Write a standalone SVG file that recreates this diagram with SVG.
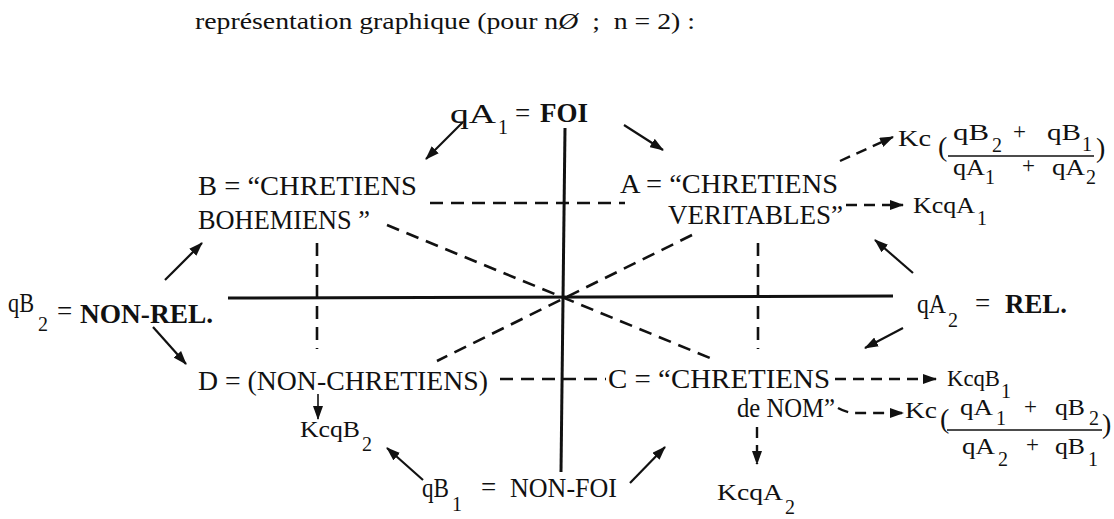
<svg xmlns="http://www.w3.org/2000/svg" width="1114" height="519" viewBox="0 0 1114 519">
<style>
text{font-family:"Liberation Serif","DejaVu Serif",serif;fill:#111}
.m{font-size:27px}
.k{font-size:23px}
.sub{font-size:20px}
.p{font-size:28px}
.b{font-weight:bold}
.solid{stroke:#111;stroke-width:3;fill:none}
.dash{stroke:#111;stroke-width:2.6;stroke-dasharray:13 8;fill:none}
.arr{stroke:#111;stroke-width:2.2;fill:none;marker-end:url(#ah)}
.darr{stroke:#111;stroke-width:2.4;stroke-dasharray:11 7;fill:none;marker-end:url(#ah)}
.fl{stroke:#111;stroke-width:1.6}
</style>
<defs>
<marker id="ah" markerUnits="userSpaceOnUse" markerWidth="14" markerHeight="10" refX="13" refY="5" orient="auto">
<path d="M0,0 L14,5 L0,10 z" fill="#111"/>
</marker>
</defs>
<rect width="1114" height="519" fill="#fff"/>

<g id="title">
<text x="195" y="29" style="font-size:24px" textLength="500" lengthAdjust="spacingAndGlyphs">représentation graphique (pour n<tspan font-style="italic">Ø</tspan>&#160;&#160;;&#160;&#160;n = 2) :</text>
</g>

<g id="connectors">
<path class="solid" d="M565,128 L561,472"/>
<path class="solid" d="M228,298 L893,296"/>
<path class="dash" d="M430,203 L625,203"/>
<path class="dash" d="M500,379 L606,379"/>
<path class="dash" d="M317,243 L317,349"/>
<path class="dash" d="M758,243 L758,349"/>
<path class="dash" d="M387,225 L710,358"/>
<path class="dash" d="M692,235 L437,361"/>
<path class="arr" d="M463,122 L426,159"/>
<path class="arr" d="M624,125 L663,150"/>
<path class="arr" d="M913,273 L875,240"/>
<path class="arr" d="M903,328 L865,348"/>
<path class="arr" d="M165,280 L202,243"/>
<path class="arr" d="M153,327 L186,364"/>
<path class="arr" d="M423,480 L387,448"/>
<path class="arr" d="M630,483 L665,447"/>
<path class="arr" style="stroke-width:1.6" d="M318,394 L318,419"/>
<path class="darr" d="M840,161 L893,137"/>
<path class="darr" d="M846,205 L903,205"/>
<path class="darr" d="M835,379 L936,379"/>
<path class="darr" d="M838,408 Q845,412 853,413 L903,413"/>
<path class="darr" d="M757,427 L757,464"/>
</g>

<g id="node-qA1">
<text class="m" x="450" y="123" textLength="46" lengthAdjust="spacingAndGlyphs">qA</text>
<text class="sub" x="498" y="134">1</text>
<text class="m" x="515" y="122">=</text>
<text class="m b" x="540" y="122" textLength="48" lengthAdjust="spacingAndGlyphs">FOI</text>
</g>

<g id="node-B">
<text class="m" x="198" y="195" textLength="219" lengthAdjust="spacingAndGlyphs">B = “CHRETIENS</text>
<text class="m" x="198" y="229" textLength="172" lengthAdjust="spacingAndGlyphs">BOHEMIENS ”</text>
</g>

<g id="node-A">
<text class="m" x="620" y="193" textLength="218" lengthAdjust="spacingAndGlyphs">A = “CHRETIENS</text>
<text class="m" x="668" y="224" textLength="175" lengthAdjust="spacingAndGlyphs">VERITABLES”</text>
</g>

<g id="node-Kc-upper">
<text class="k" x="898" y="146" textLength="33" lengthAdjust="spacingAndGlyphs">Kc</text>
<text class="p" x="938" y="156">(</text>
<text class="k" x="953" y="140" textLength="36" lengthAdjust="spacingAndGlyphs">qB</text>
<text class="sub" x="992" y="152">2</text>
<text class="k" x="1013" y="139">+</text>
<text class="k" x="1047" y="140" textLength="34" lengthAdjust="spacingAndGlyphs">qB</text>
<text class="sub" x="1082" y="151">1</text>
<line class="fl" x1="948" y1="156" x2="1094" y2="156"/>
<text class="k" x="953" y="175" textLength="32" lengthAdjust="spacingAndGlyphs">qA</text>
<text class="sub" x="985" y="184">1</text>
<text class="k" x="1022" y="173">+</text>
<text class="k" x="1052" y="175" textLength="33" lengthAdjust="spacingAndGlyphs">qA</text>
<text class="sub" x="1086" y="184">2</text>
<text class="p" x="1096" y="157">)</text>
</g>

<g id="node-KcqA1">
<text class="k" x="913" y="213" textLength="62" lengthAdjust="spacingAndGlyphs">KcqA</text>
<text class="sub" x="977" y="225">1</text>
</g>

<g id="node-qB2">
<text class="m" x="8" y="312" textLength="26" lengthAdjust="spacingAndGlyphs">qB</text>
<text class="sub" x="38" y="331">2</text>
<text class="m" x="57" y="320">=</text>
<text class="m b" x="80" y="323" textLength="133" lengthAdjust="spacingAndGlyphs">NON-REL.</text>
</g>

<g id="node-qA2">
<text class="m" x="917" y="313" textLength="29" lengthAdjust="spacingAndGlyphs">qA</text>
<text class="sub" x="948" y="327">2</text>
<text class="m" x="975" y="312">=</text>
<text class="m b" x="1005" y="313" textLength="62" lengthAdjust="spacingAndGlyphs">REL.</text>
</g>

<g id="node-D">
<text class="m" x="198" y="390" textLength="290" lengthAdjust="spacingAndGlyphs">D = (NON-CHRETIENS)</text>
</g>

<g id="node-C">
<text class="m" x="608" y="388" textLength="222" lengthAdjust="spacingAndGlyphs">C = “CHRETIENS</text>
<text class="m" x="737" y="417" textLength="98" lengthAdjust="spacingAndGlyphs">de NOM”</text>
</g>

<g id="node-KcqB1">
<text class="k" x="947" y="386" textLength="53" lengthAdjust="spacingAndGlyphs">KcqB</text>
<text class="sub" x="1001" y="398">1</text>
</g>

<g id="node-Kc-lower">
<text class="k" x="905" y="418" textLength="32" lengthAdjust="spacingAndGlyphs">Kc</text>
<text class="p" x="940" y="428">(</text>
<text class="k" x="960" y="415" textLength="33" lengthAdjust="spacingAndGlyphs">qA</text>
<text class="sub" x="996" y="425">1</text>
<text class="k" x="1024" y="414">+</text>
<text class="k" x="1055" y="415" textLength="30" lengthAdjust="spacingAndGlyphs">qB</text>
<text class="sub" x="1089" y="425">2</text>
<line class="fl" x1="947" y1="430" x2="1102" y2="430"/>
<text class="k" x="962" y="454" textLength="33" lengthAdjust="spacingAndGlyphs">qA</text>
<text class="sub" x="998" y="466">2</text>
<text class="k" x="1026" y="452">+</text>
<text class="k" x="1055" y="454" textLength="30" lengthAdjust="spacingAndGlyphs">qB</text>
<text class="sub" x="1088" y="466">1</text>
<text class="p" x="1102" y="433">)</text>
</g>

<g id="node-KcqB2">
<text class="k" x="300" y="437" textLength="60" lengthAdjust="spacingAndGlyphs">KcqB</text>
<text class="sub" x="362" y="451">2</text>
</g>

<g id="node-qB1">
<text class="m" x="422" y="497" textLength="27" lengthAdjust="spacingAndGlyphs">qB</text>
<text class="sub" x="452" y="511">1</text>
<text class="m" x="481" y="496">=</text>
<text class="m" x="510" y="497" textLength="107" lengthAdjust="spacingAndGlyphs">NON-FOI</text>
</g>

<g id="node-KcqA2">
<text class="k" x="717" y="500" textLength="66" lengthAdjust="spacingAndGlyphs">KcqA</text>
<text class="sub" x="785" y="514">2</text>
</g>
</svg>
